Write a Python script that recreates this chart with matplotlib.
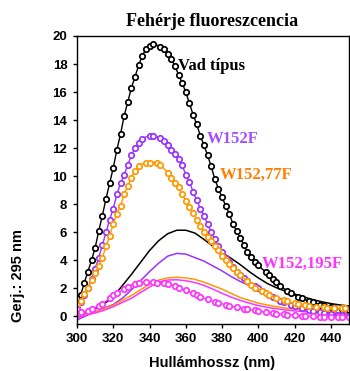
import numpy as np
import matplotlib
matplotlib.use("Agg")
import matplotlib.pyplot as plt

# hullámhossz (nm)
wl = np.arange(300, 451, 2)
wl_line = np.arange(300, 451, 5)

# körös görbék, 2 nm-enként
vad = [0.6, 1.5, 2.4, 3.2, 4.0, 4.9, 6.1, 7.2, 8.4, 9.5,
       10.6, 11.9, 13.0, 14.3, 15.3, 16.3, 17.1, 17.9, 18.6, 19.05,
       19.3, 19.4, 19.35, 19.25, 19.05, 18.7, 18.35, 17.85, 17.25, 16.65,
       16.0, 15.2, 14.4, 13.7, 12.9, 12.2, 11.5, 10.7, 9.8, 9.1,
       8.5, 7.9, 7.3, 6.6, 6.1, 5.6, 5.1, 4.6, 4.25, 3.9,
       3.65, 3.4, 3.2, 2.95, 2.7, 2.45, 2.2, 2.0, 1.82, 1.65,
       1.52, 1.4, 1.3, 1.2, 1.1, 1.0, 0.92, 0.84, 0.77, 0.71,
       0.66, 0.61, 0.56, 0.52, 0.49, 0.46]
w152f = [0.5, 1.0, 1.5, 2.0, 2.7, 3.4, 4.2, 5.1, 6.0, 6.9,
         7.7, 8.7, 9.5, 10.1, 10.8, 11.5, 12.0, 12.35, 12.65, 12.8,
         12.88, 12.9, 12.83, 12.7, 12.5, 12.25, 11.9, 11.6, 11.25, 10.8,
         10.1, 9.6, 8.9, 8.3, 7.7, 7.2, 6.6, 6.0, 5.5, 5.0,
         4.6, 4.2, 3.85, 3.5, 3.2, 2.95, 2.75, 2.55, 2.35, 2.15,
         2.0, 1.82, 1.66, 1.5, 1.36, 1.24, 1.12, 1.0, 0.9, 0.8,
         0.72, 0.64, 0.57, 0.5, 0.44, 0.39, 0.34, 0.3, 0.26, 0.22,
         0.19, 0.16, 0.13, 0.1, 0.07, 0.05]
w152_77f = [0.8, 1.1, 1.6, 2.0, 2.6, 3.1, 3.6, 4.2, 5.0, 5.75,
            6.6, 7.3, 7.9, 8.7, 9.3, 9.9, 10.4, 10.7, 10.88, 10.93,
            10.97, 11.0, 10.96, 10.8, 10.55, 10.25, 9.9, 9.55, 9.2, 8.75,
            8.25, 7.8, 7.4, 6.9, 6.45, 6.0, 5.65, 5.35, 5.05, 4.75,
            4.3, 4.0, 3.75, 3.45, 3.2, 2.95, 2.75, 2.5, 2.25, 2.05,
            1.9, 1.8, 1.65, 1.5, 1.42, 1.33, 1.25, 1.16, 1.08, 1.01,
            0.96, 0.9, 0.85, 0.8, 0.75, 0.71, 0.69, 0.67, 0.65, 0.63,
            0.61, 0.6, 0.59, 0.58, 0.57, 0.55]
w152_195f = [0.5, 0.35, 0.3, 0.4, 0.55, 0.65, 0.75, 0.9, 1.1, 1.3,
             1.5, 1.65, 1.8, 1.95, 2.1, 2.25, 2.35, 2.42, 2.45, 2.46,
             2.46, 2.45, 2.42, 2.4, 2.38, 2.33, 2.26, 2.15, 2.05, 1.97,
             1.88, 1.77, 1.65, 1.53, 1.42, 1.3, 1.22, 1.13, 1.04, 0.96,
             0.9, 0.83, 0.77, 0.71, 0.67, 0.62, 0.56, 0.51, 0.47, 0.43,
             0.39, 0.34, 0.3, 0.26, 0.23, 0.2, 0.18, 0.15, 0.13, 0.11,
             0.09, 0.07, 0.05, 0.04, 0.03, 0.01, 0.0, -0.01, -0.02, -0.03,
             -0.04, -0.05, -0.05, -0.06, -0.07, -0.07]

# folytonos görbék, 5 nm-enként
vad_line = [0.0, 0.25, 0.55, 0.9, 1.4, 2.2, 3.0, 3.85, 4.7, 5.4,
            5.9, 6.15, 6.15, 5.95, 5.5, 5.0, 4.55, 4.15, 3.7, 3.2,
            2.75, 2.35, 2.05, 1.8, 1.6, 1.4, 1.2, 1.05, 0.92, 0.82, 0.75]
w152f_line = [-0.25, 0.05, 0.35, 0.6, 0.85, 1.3, 1.9, 2.55, 3.2, 3.8,
              4.3, 4.5, 4.45, 4.2, 3.95, 3.6, 3.25, 2.85, 2.5, 2.2,
              1.85, 1.55, 1.25, 1.0, 0.75, 0.55, 0.42, 0.32, 0.2, 0.12, 0.05]
w152_77f_line = [0.0, 0.2, 0.35, 0.55, 0.8, 1.15, 1.5, 1.9, 2.3, 2.6,
                 2.75, 2.8, 2.75, 2.65, 2.45, 2.2, 1.95, 1.65, 1.35, 1.15,
                 0.95, 0.82, 0.7, 0.6, 0.52, 0.46, 0.4, 0.34, 0.3, 0.26, 0.24]
w152_195f_line = [-0.1, 0.1, 0.25, 0.45, 0.7, 1.0, 1.3, 1.7, 2.1, 2.45,
                  2.6, 2.62, 2.55, 2.42, 2.22, 1.95, 1.65, 1.38, 1.15, 0.95,
                  0.78, 0.65, 0.55, 0.47, 0.4, 0.35, 0.3, 0.27, 0.24, 0.22, 0.2]

BLACK = "#000000"
PURPLE = "#9933FF"
ORANGE = "#FF9900"
MAGENTA = "#FF33FF"

serif = "Liberation Serif"
sans = "Liberation Sans"

fig = plt.figure(figsize=(3.5, 3.71), dpi=100)
ax = fig.add_axes([77 / 350, 1 - 323.5 / 371, 272 / 350, 287.5 / 371])

# folytonos vonalak
ax.plot(wl_line, vad_line, color=BLACK, lw=1.1)
ax.plot(wl_line, w152f_line, color=PURPLE, lw=1.1)
ax.plot(wl_line, w152_77f_line, color=ORANGE, lw=1.1)
ax.plot(wl_line, w152_195f_line, color=MAGENTA, lw=1.1)

# körös görbék
for vals, col in [(vad, BLACK), (w152f, PURPLE), (w152_77f, ORANGE), (w152_195f, MAGENTA)]:
    ax.plot(wl, vals, color=col, lw=1.0, marker="o", ms=3.9, mew=1.25,
            mfc="white", mec=col, markevery=0.015)

ax.set_xlim(300, 450)
ax.set_ylim(-0.5, 20)
ax.set_xticks(np.arange(300, 441, 20))
ax.set_yticks(np.arange(0, 21, 2))
ax.tick_params(direction="out", length=3, width=1, pad=4)
for lab in ax.get_xticklabels() + ax.get_yticklabels():
    lab.set_family(sans)
    lab.set_fontweight("bold")
    lab.set_fontsize(9.5)
for sp in ax.spines.values():
    sp.set_linewidth(1.0)

ax.text(355.8, 17.6, "Vad típus", family=serif, weight="bold", fontsize=12, color=BLACK)
ax.text(371.6, 12.4, "W152F", family=serif, weight="bold", fontsize=12, color="#A64DFF")
ax.text(379, 9.8, "W152,77F", family=serif, weight="bold", fontsize=12, color="#FF8000")
ax.text(402, 3.47, "W152,195F", family=serif, weight="bold", fontsize=12, color=MAGENTA)

fig.text(212 / 350, 1 - 26 / 371, "Fehérje fluoreszcencia", family=serif,
         weight="bold", fontsize=13, ha="center", va="baseline")
fig.text(212.5 / 350, 1 - 363 / 371, "Hullámhossz (nm)", family=sans,
         weight="bold", fontsize=10.5, ha="center", va="center")
fig.text(18 / 350, 1 - 276 / 371, "Gerj.: 295 nm", family=sans,
         weight="bold", fontsize=10.5, ha="center", va="center", rotation=90)

fig.savefig("out.png", dpi=100)
